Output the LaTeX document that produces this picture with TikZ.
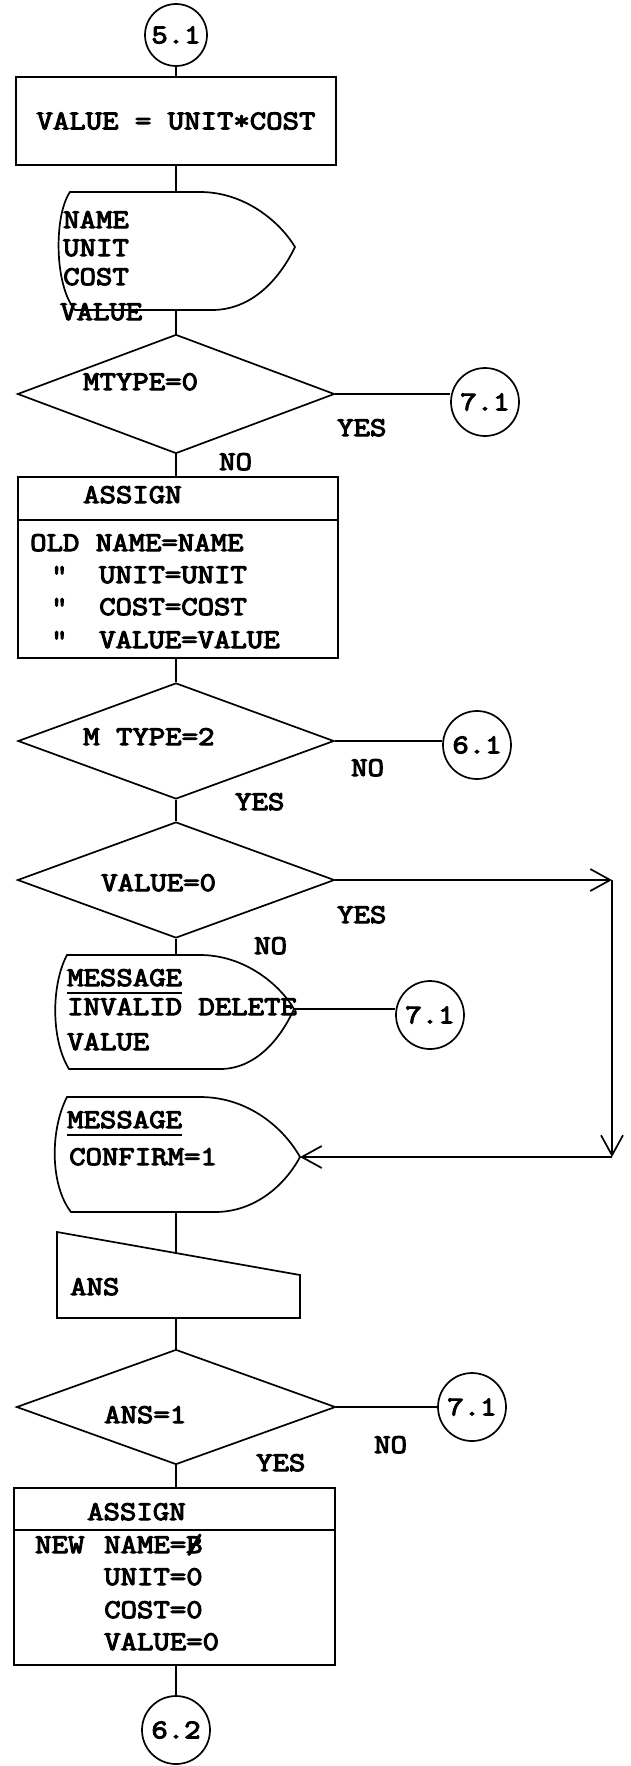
\documentclass[tikz,border=0pt]{standalone}
\usepackage{fontspec}
\newfontfamily\tw{Latin Modern Mono}[FakeBold=4,FakeStretch=1.18]
\usetikzlibrary{shapes.geometric,arrows.meta}
\tikzset{
  ln/.style={line width=1.7pt},
  tx/.style={inner sep=0pt, anchor=base west},
  boxst/.style={draw, ln, rectangle, inner sep=0pt},
  dia/.style={draw, ln, diamond, inner sep=0pt},
  onpage/.style={draw, ln, circle, inner sep=0pt, minimum size=68pt},
  arr/.style={-{Straight Barb[length=20pt,width=22pt,line width=1.7pt]}},
  ul/.style={line width=2.8pt},
}
\begin{document}
\begin{tikzpicture}[x=1pt,y=-1pt,font=\fontsize{27}{30}\selectfont\tw]
\fill[white] (0,0) rectangle (631,1766);
\useasboundingbox (0,0) rectangle (631,1766);
% coordinates
\coordinate (p1t) at (176,192);
\coordinate (p1b) at (176,310);
\coordinate (p2t) at (176,955);
\coordinate (p2r) at (294,1009);
\coordinate (p3t) at (176,1097);
\coordinate (p3r) at (300,1157);
\coordinate (p3b) at (176,1212);
\coordinate (mit) at (176,1253);
\coordinate (mib) at (176,1318);
\coordinate (k1) at (612,880);
\coordinate (k2) at (612,1157);
\coordinate (b2d) at (178,520);
\coordinate (b3d) at (174,1530);
% 5.1 and first box
\node[onpage, minimum size=62pt] (c51) at (176,35) {5.1};
\node[boxst, minimum width=320pt, minimum height=88pt] (b1) at (176,121) {VALUE = UNIT*COST};
\draw[ln] (c51) -- (b1);
% display 1
\draw[ln] (70,192) -- (200,192) .. controls (245,192) and (280,222) .. (295,247)
  .. controls (278,282) and (250,310) .. (212,310) -- (75,310)
  .. controls (54,285) and (54,215) .. (70,192) -- cycle;
\draw[ln] (b1) -- (p1t);
\node[tx] (n1) at (63,228) {NAME};
\node[tx] (n2) at (63,256) {UNIT};
\node[tx] (n3) at (63,285) {COST};
\node[tx] (n4) at (60,320) {VALUE};
% decision 1
\node[dia, minimum width=317pt, minimum height=119pt] (d1) at (176,394) {};
\draw[ln] (p1b) -- (d1);
\node[tx] (t1) at (83,390) {MTYPE=0};
\node[onpage] (c71a) at (485,402) {7.1};
\draw[ln] (d1.east) -- (d1.east -| c71a.west);
\node[tx] (y1) at (337,436) {YES};
\node[tx] (no1) at (219,470) {NO};
% assign box 1
\node[boxst, minimum width=320pt, minimum height=181pt] (b2) at (178,567.5) {};
\draw[ln] (d1.south) -- (d1.south |- b2.north);
\draw[ln] (b2.west |- b2d) -- (b2.east |- b2d);
\node[tx] (a1) at (83,503) {ASSIGN};
\node[tx] (o1) at (30,551) {OLD NAME=NAME};
\node[tx] (q1) at (51,583) {"};
\node[tx] (o2) at (99,583) {UNIT=UNIT};
\node[tx] (q2) at (51,615) {"};
\node[tx] (o3) at (99,615) {COST=COST};
\node[tx] (q3) at (51,648) {"};
\node[tx] (o4) at (99,648) {VALUE=VALUE};
% decision 2
\node[dia, minimum width=316pt, minimum height=116pt] (d2) at (176,741) {};
\draw[ln] (b2.south -| d2.north) -- (d2.north);
\node[tx] (t2) at (83,745) {M TYPE=2};
\node[onpage] (c61) at (477,745) {6.1};
\draw[ln] (d2.east) -- (d2.east -| c61.west);
\node[tx] (no2) at (351,776) {NO};
\node[tx] (y2) at (235,810) {YES};
% decision 3
\node[dia, minimum width=317pt, minimum height=116pt] (d3) at (176,880) {};
\draw[ln] (d2) -- (d3);
\node[tx] (t3) at (101,891) {VALUE=0};
\node[tx] (y3) at (337,923) {YES};
\node[tx] (no3) at (254,954) {NO};
\draw[ln,arr] (d3.east) -- (k1);
\draw[ln,arr] (k1) -- (k2);
\draw[ln,arr] (k2) -- (p3r);
% display 2
\draw[ln] (67,955) -- (200,955) .. controls (245,955) and (280,985) .. (294,1009)
  .. controls (280,1040) and (255,1069) .. (220,1069) -- (69,1069)
  .. controls (51,1040) and (51,985) .. (67,955) -- cycle;
\draw[ln] (d3) -- (p2t);
\node[tx] (m1) at (67,986) {MESSAGE};
\draw[ul] ([yshift=-7pt]m1.base west) -- ([yshift=-7pt]m1.base east);
\node[tx] (m2) at (67,1015) {INVALID DELETE};
\node[tx] (m3) at (67,1050) {VALUE};
\node[onpage] (c71b) at (430,1015) {7.1};
\draw[ln] (p2r) -- (p2r -| c71b.west);
% display 3
\draw[ln] (67,1097) -- (200,1097) .. controls (250,1097) and (285,1130) .. (300,1157)
  .. controls (285,1185) and (255,1212) .. (215,1212) -- (71,1212)
  .. controls (50,1185) and (50,1130) .. (67,1097) -- cycle;
\node[tx] (m4) at (67,1128) {MESSAGE};
\draw[ul] ([yshift=-7pt]m4.base west) -- ([yshift=-7pt]m4.base east);
\node[tx] (m5) at (69,1165) {CONFIRM=1};
% manual input
\draw[ln] (57,1232) -- (300,1275) -- (300,1318) -- (57,1318) -- cycle;
\draw[ln] (p3b) -- (mit);
\node[tx] (ans) at (70,1295) {ANS};
% decision 4
\node[dia, minimum width=319pt, minimum height=115pt] (d4) at (176,1407) {};
\draw[ln] (mib) -- (d4);
\node[tx] (t4) at (104,1423) {ANS=1};
\node[onpage] (c71c) at (472,1407) {7.1};
\draw[ln] (d4.east) -- (c71c.west);
\node[tx] (no4) at (374,1453) {NO};
\node[tx] (y4) at (256,1471) {YES};
% assign box 2
\node[boxst, minimum width=321pt, minimum height=177pt] (b3) at (174.5,1576.5) {};
\draw[ln] (d4.south) -- (d4.south |- b3.north);
\draw[ln] (b3.west |- b3d) -- (b3.east |- b3d);
\node[tx] (a2) at (87,1520) {ASSIGN};
\node[tx] (e1) at (35,1553) {NEW};
\node[tx] (e2) at (104,1553) {NAME=\ooalign{B\cr\hidewidth/\hidewidth}};
\node[tx] (e3) at (104,1585) {UNIT=0};
\node[tx] (e4) at (104,1618) {COST=0};
\node[tx] (e5) at (104,1650) {VALUE=0};
\node[onpage] (c62) at (176,1730) {6.2};
\draw[ln] (b3.south -| c62.north) -- (c62.north);
\end{tikzpicture}
\end{document}
